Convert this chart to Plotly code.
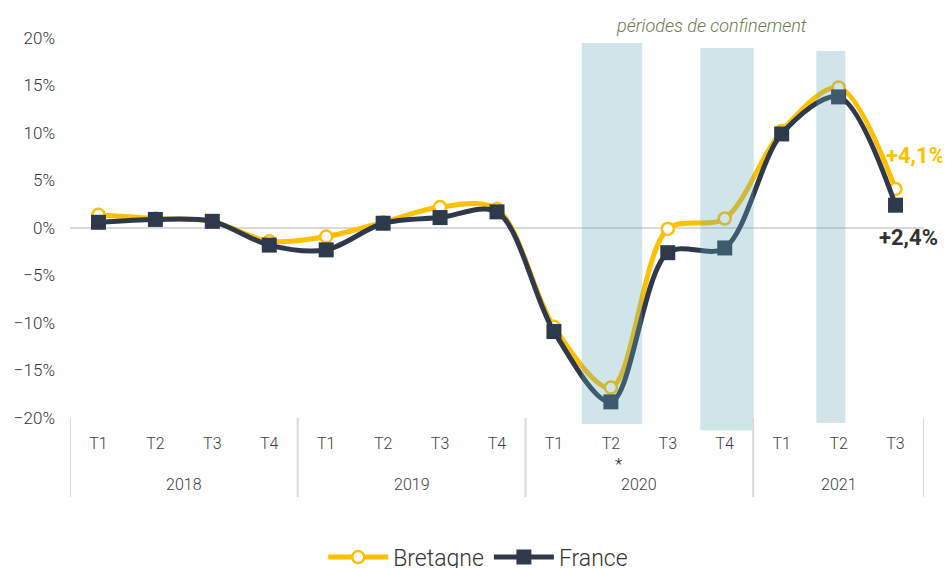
import plotly.graph_objects as go

years = ["2018"] * 4 + ["2019"] * 4 + ["2020"] * 4 + ["2021"] * 3
quarters = ["T1", "T2", "T3", "T4"] * 3 + ["T1", "T2", "T3"]
year_labels = ["2018", "2019", "2020", "2021"]

bretagne = [1.4, 1.0, 0.7, -1.4, -0.9, 0.6, 2.2, 2.0, -10.4, -16.8, -0.1, 1.0, 10.2, 14.8, 4.1]
france = [0.6, 0.9, 0.7, -1.8, -2.3, 0.5, 1.1, 1.7, -10.9, -18.3, -2.6, -2.1, 9.9, 13.8, 2.4]

# lockdown periods: (start, end in category units, bottom paper, top paper)
lockdowns = [(8.99, 10.05, -0.016, 0.987), (11.07, 12.01, -0.032, 0.974), (13.11, 13.62, -0.013, 0.966)]

YELLOW = "#FFC000"
DARK = "#2E3A4C"
FONT = "Roboto"

cats = [f"{y} {q}" for y, q in zip(years, quarters)]
n = len(cats)

fig = go.Figure()
fig.add_trace(go.Scatter(
    x=cats, y=bretagne, name="Bretagne",
    mode="lines+markers", line=dict(color=YELLOW, width=5, shape="spline", smoothing=0.9),
    marker=dict(symbol="circle", size=12, color="white", line=dict(color=YELLOW, width=2.5)),
))
fig.add_trace(go.Scatter(
    x=cats, y=france, name="France",
    mode="lines+markers", line=dict(color=DARK, width=5, shape="spline", smoothing=0.9),
    marker=dict(symbol="square", size=15, color=DARK),
))

for x0, x1, y0, y1 in lockdowns:
    fig.add_shape(type="rect", xref="x", yref="paper", x0=x0 - 0.5, x1=x1 - 0.5, y0=y0, y1=y1,
                  fillcolor="rgba(98,169,185,0.3)", line=dict(width=0), layer="above")

# year groups: labels and dividers
bounds = [-0.5]
for yl in year_labels:
    idx = [i for i, y in enumerate(years) if y == yl]
    fig.add_annotation(xref="x", yref="paper", x=(idx[0] + idx[-1]) / 2, y=-0.176, yanchor="middle",
                       text=yl, showarrow=False, font=dict(size=16, color="#404040", family=FONT, weight=300))
    bounds.append(idx[-1] + 0.5)
for b in bounds:
    fig.add_shape(type="line", xref="x", yref="paper", x0=b, x1=b, y0=0, y1=-0.208,
                  line=dict(color="#D9D9D9", width=2))

fig.add_annotation(xref="x", yref="paper", x=quarters.index("T2", 8), xshift=8, y=-0.12, yanchor="middle",
                   text="*", showarrow=False, font=dict(size=17, color="#222222"))
fig.add_annotation(xref="paper", yref="paper", x=11.27 / n, xanchor="center", y=1.0, yanchor="middle", yshift=13,
                   text="<i>périodes de confinement</i>", showarrow=False,
                   font=dict(size=18, color="#6B7B4A", family=FONT, weight=300))
fig.add_annotation(xref="paper", yref="y", x=1.0, xanchor="right", xshift=23, y=bretagne[-1], yshift=34,
                   text="<b>+4,1%</b>", showarrow=False, font=dict(size=22, color=YELLOW))
fig.add_annotation(xref="paper", yref="y", x=1.0, xanchor="right", xshift=16, y=france[-1], yshift=-32,
                   text="<b>+2,4%</b>", showarrow=False, font=dict(size=22, color="#333333"))

# the page places the figure 8px from the top-left corner; sizes compensate for it
fig.update_layout(
    width=942, height=560,
    margin=dict(l=62, r=26, t=30, b=150, autoexpand=False),
    paper_bgcolor="white", plot_bgcolor="white",
    font=dict(family=FONT, color="#404040", size=15, weight=300),
    showlegend=True,
    legend=dict(orientation="h", x=0.478, xanchor="center", y=-0.366, yanchor="middle",
                font=dict(size=23, color="#333333"), itemwidth=60, traceorder="normal"),
    xaxis=dict(type="category", range=[-0.5, n - 0.5], showgrid=False, showline=False, zeroline=False,
               tickmode="array", tickvals=cats, ticktext=quarters, automargin=False,
               tickfont=dict(size=16, color="#404040", weight=300), ticks="", ticklabelstandoff=14),
    yaxis=dict(range=[-20, 20], dtick=5, ticksuffix="%", showgrid=False, automargin=False,
               zeroline=True, zerolinecolor="#D9D9D9", zerolinewidth=2,
               tickfont=dict(size=17, color="#333333", weight=300), ticklabelstandoff=14),
)

fig.write_html("out.html")
